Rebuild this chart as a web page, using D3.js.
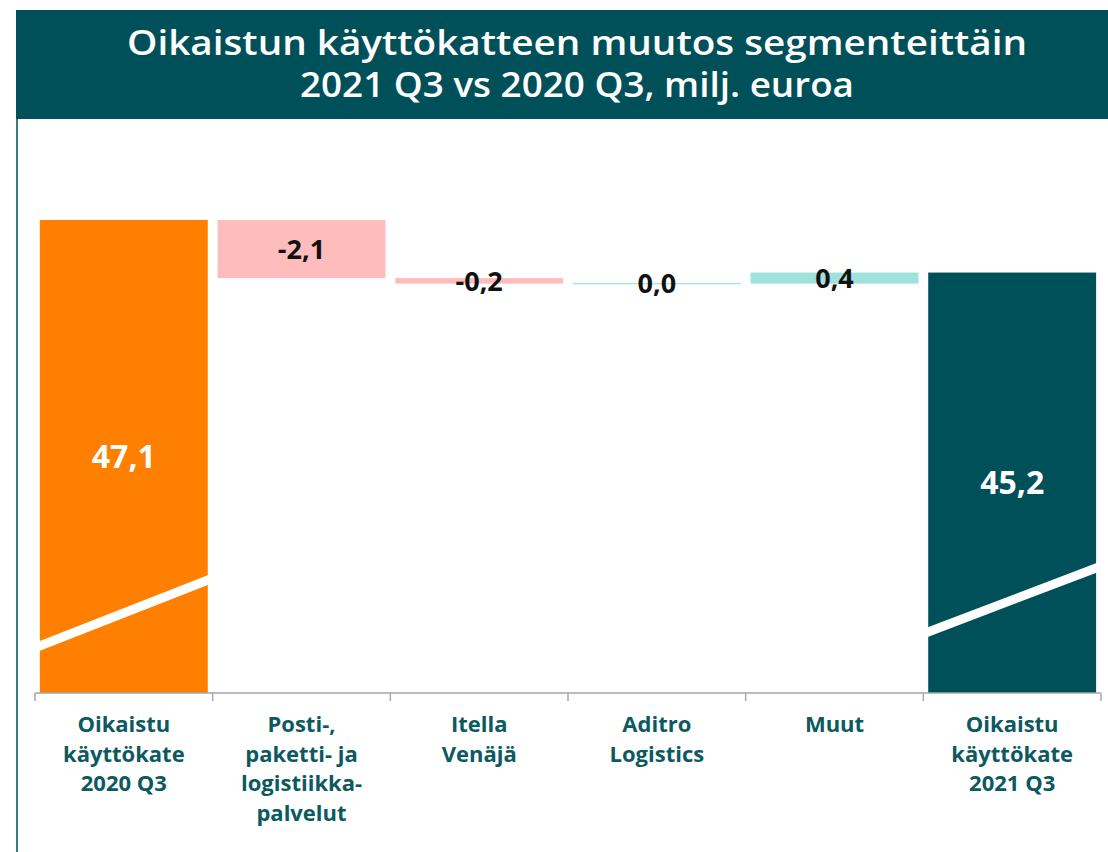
<!DOCTYPE html>
<meta charset="utf-8">
<style>
body { margin: 0; background: #fff; }
svg { display: block; font-family: "Open Sans", sans-serif; }
.title { fill: #fff; font-size: 34px; font-weight: 600; text-anchor: middle; }
.value { font-size: 27px; font-weight: 700; text-anchor: middle; }
.total-value { font-size: 32px; }
.cat text { fill: #0d5960; font-size: 22px; font-weight: 700; text-anchor: middle; }
</style>
<svg width="1108" height="852"></svg>
<script src="https://cdn.jsdelivr.net/npm/d3@7"></script>
<script>

// data
var categories = ["2020 Q3", "Posti", "Itella", "Aditro", "Muut", "2021 Q3"];
var categoryLines = [
  ["Oikaistu", "käyttökate", "2020 Q3"],
  ["Posti-,", "paketti- ja", "logistiikka-", "palvelut"],
  ["Itella", "Venäjä"],
  ["Aditro", "Logistics"],
  ["Muut"],
  ["Oikaistu", "käyttökate", "2021 Q3"]
];
var values = [47.1, -2.1, -0.2, 0.0, 0.4, 45.2];
var kinds = ["total", "delta", "delta", "delta", "delta", "total"];
var valueLabels = ["47,1", "-2,1", "-0,2", "0,0", "0,4", "45,2"];
var titleLines = ["Oikaistun käyttökatteen muutos segmenteittäin", "2021 Q3 vs 2020 Q3, milj. euroa"];

// the value axis is broken: totals stand on this value, not on zero
var axisBase = 30;

var svg = d3.select("svg");

var colors = {
  first: "#ff8000",
  last: "#00505a",
  up: "#9fe2dc",
  down: "#ffbcbc",
  zero: "#a8e6e0"
};

// header
svg.append("rect")
    .attr("x", 16).attr("y", 10)
    .attr("width", 1092).attr("height", 109)
    .attr("fill", "#00505a");

svg.append("line")
    .attr("x1", 17).attr("x2", 17)
    .attr("y1", 119).attr("y2", 852)
    .attr("stroke", "#3a7b81")
    .attr("stroke-width", 2);

svg.selectAll(".title")
    .data(titleLines)
  .enter().append("text")
    .attr("class", "title")
    .attr("x", 577)
    .attr("y", function(d, i) { return 55 + i * 42; })
    .attr("textLength", function(d, i) { return i == 0 ? 900 : 554; })
    .attr("lengthAdjust", "spacingAndGlyphs")
    .text(function(d) { return d; });

var x = d3.scaleBand()
    .domain(categories)
    .range([35, 1101])
    .paddingInner(0.055)
    .paddingOuter(0.0275);

var y = d3.scaleLinear()
    .domain([axisBase, 47.1])
    .range([693, 220]);

// running totals for the waterfall
var bars = [];
var cum = 0;
for (var i = 0; i < values.length; i++) {
  var b = {cat: categories[i], kind: kinds[i], label: valueLabels[i], v: values[i]};
  if (kinds[i] == "total") {
    b.start = axisBase;
    b.end = values[i];
    cum = values[i];
  } else {
    b.start = cum;
    b.end = cum + values[i];
    cum = b.end;
  }
  if (i == 0) b.color = colors.first;
  else if (i == values.length - 1) b.color = colors.last;
  else if (values[i] > 0) b.color = colors.up;
  else if (values[i] < 0) b.color = colors.down;
  else b.color = colors.zero;
  bars.push(b);
}

var g = svg.append("g");

g.selectAll(".bar")
    .data(bars)
  .enter().append("rect")
    .attr("class", "bar")
    .attr("x", function(d) { return x(d.cat); })
    .attr("width", x.bandwidth())
    .attr("y", function(d) {
      var h = Math.abs(y(d.start) - y(d.end));
      return Math.min(y(d.start), y(d.end)) - (h < 1.5 ? 0.75 : 0);
    })
    .attr("height", function(d) { return Math.max(1.5, Math.abs(y(d.start) - y(d.end))); })
    .attr("fill", function(d) { return d.color; });

// axis break marks across the two total bars (px above the baseline at left / right edge)
var breakMarks = [{cat: categories[0], left: 47, right: 113}, {cat: categories[5], left: 61, right: 125}];
g.selectAll(".break")
    .data(breakMarks)
  .enter().append("line")
    .attr("class", "break")
    .attr("x1", function(d) { return x(d.cat) - 6; })
    .attr("x2", function(d) { return x(d.cat) + x.bandwidth() + 6; })
    .attr("y1", function(d) { return y(axisBase) - d.left + 2.3; })
    .attr("y2", function(d) { return y(axisBase) - d.right - 2.3; })
    .attr("stroke", "#fff")
    .attr("stroke-width", 9);

g.selectAll(".value")
    .data(bars)
  .enter().append("text")
    .attr("class", function(d) { return d.kind == "total" ? "value total-value" : "value"; })
    .attr("x", function(d) { return x(d.cat) + x.bandwidth() / 2; })
    .attr("y", function(d) { return (y(d.start) + y(d.end)) / 2; })
    .attr("dy", "0.36em")
    .attr("fill", function(d) { return d.kind == "total" ? "#fff" : "#111"; })
    .text(function(d) { return d.label; });

// category axis, ticks on band edges
var step = x.step();
var edges = categories.map(function(c) { return x(c) + x.bandwidth() / 2 - step / 2; });
edges.push(edges[edges.length - 1] + step);

var axis = svg.append("g").attr("class", "axis");
axis.append("line")
    .attr("x1", edges[0]).attr("x2", edges[edges.length - 1])
    .attr("y1", y(axisBase)).attr("y2", y(axisBase))
    .attr("stroke", "#a6a6a6")
    .attr("stroke-width", 1.5);
axis.selectAll(".tick")
    .data(edges)
  .enter().append("line")
    .attr("x1", function(d) { return d; }).attr("x2", function(d) { return d; })
    .attr("y1", y(axisBase)).attr("y2", y(axisBase) + 8)
    .attr("stroke", "#a6a6a6")
    .attr("stroke-width", 1.5);

var cat = svg.selectAll(".cat")
    .data(categories)
  .enter().append("g")
    .attr("class", "cat")
    .attr("transform", function(d) { return "translate(" + (x(d) + x.bandwidth() / 2) + ",0)"; });

cat.selectAll("text")
    .data(function(d, i) { return categoryLines[i]; })
  .enter().append("text")
    .attr("y", function(d, i) { return 732 + i * 29.5; })
    .text(function(d) { return d; });

</script>
